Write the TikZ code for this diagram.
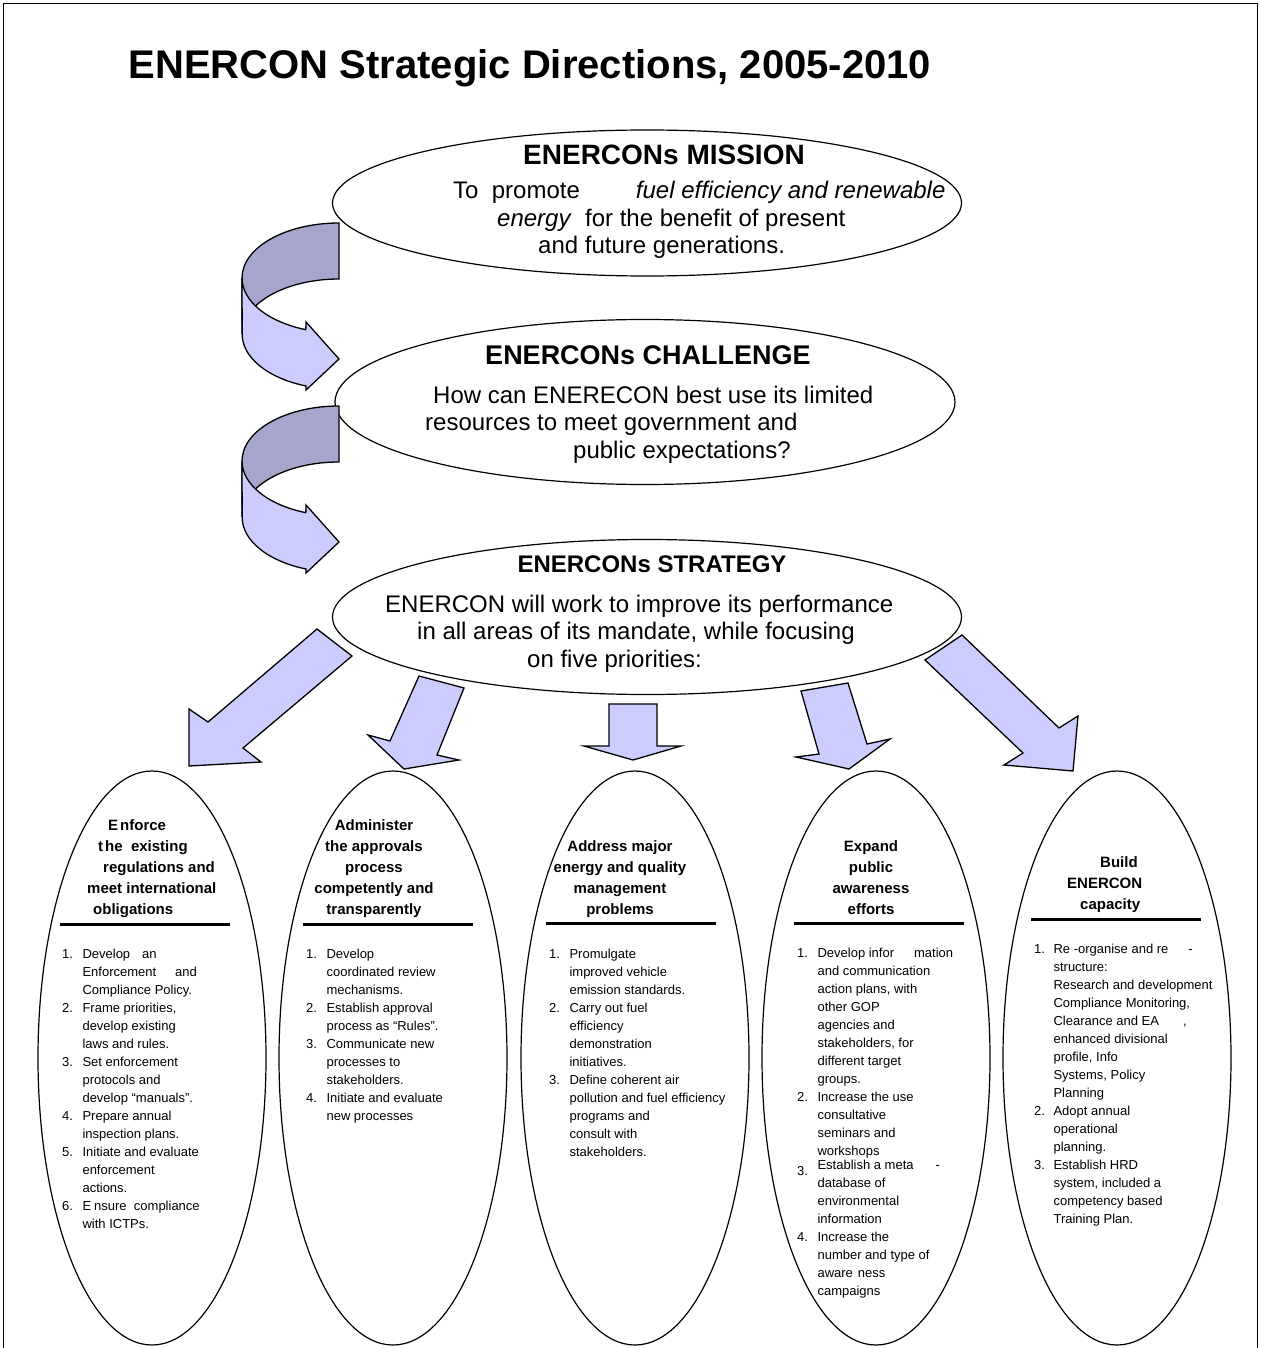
\documentclass[tikz,border=0pt]{standalone}
\usepackage{fontspec}
\setmainfont{Liberation Sans}
\usetikzlibrary{shapes.geometric}

\definecolor{arrowfill}{RGB}{204,204,255}
\definecolor{arrowback}{RGB}{166,166,204}

\tikzset{
  bigell/.style={draw, ellipse, line width=1.2pt, inner sep=0pt},
  prioell/.style={draw, ellipse, line width=1.2pt, inner sep=0pt,
    minimum width=228pt, minimum height=574pt},
  blockarr/.style={draw=black, fill=arrowfill, line width=1.3pt, line join=miter},
  backarr/.style={draw=black, fill=arrowback, line width=1.3pt},
  headrule/.style={line width=3pt},
  tophead/.style={inner sep=0pt, anchor=base, font=\bfseries\fontsize{27}{32}\selectfont},
  toptxt/.style={inner sep=0pt, anchor=base west, font=\fontsize{24}{27.5}\selectfont},
  priohead/.style={inner sep=0pt, anchor=base, font=\bfseries\fontsize{15}{21}\selectfont},
  listtxt/.style={inner sep=0pt, anchor=base west, font=\fontsize{13}{18}\selectfont}
}

\begin{document}
\begin{tikzpicture}[x=1pt, y=1pt]
  \useasboundingbox (0,0) rectangle (1260,-1348);
  % frame
  \draw[line width=0.8pt] (3,-1350) -- (3,-3) -- (1257,-3) -- (1257,-1350);

  \node[inner sep=0pt, anchor=base, font=\bfseries\fontsize{40}{48}\selectfont] (title)
    at (530,-79) {ENERCON Strategic Directions, 2005-2010};

  % the three big ellipses
  \node[bigell, minimum width=629pt, minimum height=146pt] (mission) at (647,-203) {};
  \node[bigell, minimum width=620pt, minimum height=165pt] (challenge) at (645,-402) {};
  \node[bigell, minimum width=629pt, minimum height=155pt] (strategy) at (647,-617) {};

  \node[tophead, font=\bfseries\fontsize{28}{32}\selectfont] (missionhead) at (664,-165) {ENERCONs MISSION};
  \node[toptxt] (missiontxt) at (453,-199) {\begin{tabular}[t]{@{}l@{}}
    To\ \ promote\hspace{56pt}\textit{fuel efficiency and renewable}\\
    \hspace*{44pt}\textit{energy}\ \ for the benefit of present\\
    \hspace*{85pt}and future generations.
  \end{tabular}};

  \node[tophead] (challengehead) at (648,-364) {ENERCONs CHALLENGE};
  \node[toptxt] (challengetxt) at (433,-403) {\begin{tabular}[t]{@{}l@{}}
    How can ENERECON best use its limited\\
    \hspace*{-8pt}resources to meet government and\\
    \hspace*{140pt}public expectations?
  \end{tabular}};

  \node[tophead, font=\bfseries\fontsize{24}{28}\selectfont] (strategyhead) at (652,-572) {ENERCONs STRATEGY};
  \node[toptxt] (strategytxt) at (385,-612) {\begin{tabular}[t]{@{}l@{}}
    ENERCON will work to improve its performance\\
    \hspace*{32pt}in all areas of its mandate, while focusing\\
    \hspace*{142pt}on five priorities:
  \end{tabular}};

  % curved arrows between the big ellipses
  \foreach \dy in {0,183} {
    \begin{scope}[yshift=-\dy pt]
      \filldraw[backarr] (339,-223) arc[start angle=90, end angle=180, x radius=97, y radius=55]
        -- (242,-334) arc[start angle=180, end angle=90, x radius=97, y radius=55] -- cycle;
      \filldraw[blockarr] (242,-278) arc[start angle=180, end angle=250, x radius=97, y radius=55]
        -- (306,-322) -- (339,-359) -- (306,-390) -- (306,-386)
        arc[start angle=250, end angle=180, x radius=97, y radius=55] -- cycle;
    \end{scope}
  }

  % block arrows to the priorities
  \filldraw[blockarr] (317,-629) -- (208,-722) -- (189,-709) -- (189,-766) -- (261,-762) -- (243,-748) -- (352,-656) -- cycle;
  \filldraw[blockarr] (419,-676) -- (390,-741) -- (368,-735) -- (404,-769) -- (459,-760) -- (437,-755) -- (464,-688) -- cycle;
  \filldraw[blockarr] (609,-704) -- (609,-746) -- (584,-746) -- (633,-760) -- (681,-746) -- (657,-746) -- (657,-704) -- cycle;
  \filldraw[blockarr] (801,-691) -- (819,-754) -- (796,-757) -- (849,-769) -- (890,-739) -- (867,-744) -- (848,-683) -- cycle;
  \filldraw[blockarr] (962,-635) -- (1059,-728) -- (1078,-716) -- (1073,-771) -- (1004,-765) -- (1023,-753) -- (925,-660) -- cycle;

  % the five priorities
  \foreach \i/\cx in {1/152, 2/393, 3/635, 4/876, 5/1117}
    \node[prioell] (prio\i) at (\cx,-1058) {};
  \foreach \x/\y in {60/924, 303/924, 546/923, 794/923, 1031/919}
    \draw[headrule] (\x,-\y) -- ++(170,0);

  \node[priohead, anchor=base west] (head1) at (87,-830) {\begin{tabular}[t]{@{}l@{}}
    \hspace*{21pt}E\hspace{2pt}nforce\\
    \hspace*{11pt}t\hspace{2pt}he\ \ existing\\
    \hspace*{16pt}regulations and\\
    meet international\\
    \hspace*{6pt}obligations
  \end{tabular}};
  \node[priohead] (head2) at (374,-830) {\begin{tabular}[t]{@{}c@{}}
    Administer\\ the approvals\\ process\\ competently and\\ transparently
  \end{tabular}};
  \node[priohead] (head3) at (620,-851) {\begin{tabular}[t]{@{}c@{}}
    Address major\\ energy and quality\\ management\\ problems
  \end{tabular}};
  \node[priohead] (head4) at (871,-851) {\begin{tabular}[t]{@{}c@{}}
    Expand\\ public\\ awareness\\ efforts
  \end{tabular}};
  \node[priohead, anchor=base west] (head5) at (1067,-867) {\begin{tabular}[t]{@{}l@{}}
    \hspace*{33pt}Build\\
    ENERCON\\
    \hspace*{13pt}capacity
  \end{tabular}};

  \node[listtxt] (list1) at (62,-958) {\begin{tabular}[t]{@{}l@{\hspace{9.5pt}}l@{}}
    1. & Develop\hspace{12pt}an\\
       & Enforcement\hspace{19pt}and\\
       & Compliance Policy.\\
    2. & Frame priorities,\\
       & develop existing\\
       & laws and rules.\\
    3. & Set enforcement\\
       & protocols and\\
       & develop “manuals”.\\
    4. & Prepare annual\\
       & inspection plans.\\
    5. & Initiate and evaluate\\
       & enforcement\\
       & actions.\\
    6. & E\hspace{3pt}nsure\ \ compliance\\
       & with ICTPs.
  \end{tabular}};
  \node[listtxt] (list2) at (306,-958) {\begin{tabular}[t]{@{}l@{\hspace{9.5pt}}l@{}}
    1. & Develop\\
       & coordinated review\\
       & mechanisms.\\
    2. & Establish approval\\
       & process as “Rules”.\\
    3. & Communicate new\\
       & processes to\\
       & stakeholders.\\
    4. & Initiate and evaluate\\
       & new processes
  \end{tabular}};
  \node[listtxt] (list3) at (549,-958) {\begin{tabular}[t]{@{}l@{\hspace{9.5pt}}l@{}}
    1. & Promulgate\\
       & improved vehicle\\
       & emission standards.\\
    2. & Carry out fuel\\
       & efficiency\\
       & demonstration\\
       & initiatives.\\
    3. & Define coherent air\\
       & pollution and fuel efficiency\\
       & programs and\\
       & consult with\\
       & stakeholders.
  \end{tabular}};
  \node[listtxt] (list4) at (797,-957) {\begin{tabular}[t]{@{}l@{\hspace{9.5pt}}l@{}}
    1. & Develop infor\hspace{20pt}mation\\
       & and communication\\
       & action plans, with\\
       & other GOP\\
       & agencies and\\
       & stakeholders, for\\
       & different target\\
       & groups.\\
    2. & Increase the use\\
       & consultative\\
       & seminars and\\
       & workshops\\[-4pt]
    \raisebox{-6pt}{3.} & Establish a meta\hspace{22pt}-\\
       & database of\\
       & environmental\\
       & information\\
    4. & Increase the\\
       & number and type of\\
       & aware\hspace{5pt}ness\\
       & campaigns
  \end{tabular}};
  \node[listtxt] (list5) at (1034,-953) {\begin{tabular}[t]{@{}l@{\hspace{8.5pt}}l@{}}
    1. & Re -organise and re\hspace{20pt}-\\
       & structure:\\
       & Research and development\\
       & Compliance Monitoring,\\
       & Clearance and EA\hspace{24pt},\\
       & enhanced divisional\\
       & profile, Info\\
       & Systems, Policy\\
       & Planning\\
    2. & Adopt annual\\
       & operational\\
       & planning.\\
    3. & Establish HRD\\
       & system, included a\\
       & competency based\\
       & Training Plan.
  \end{tabular}};
\end{tikzpicture}
\end{document}
